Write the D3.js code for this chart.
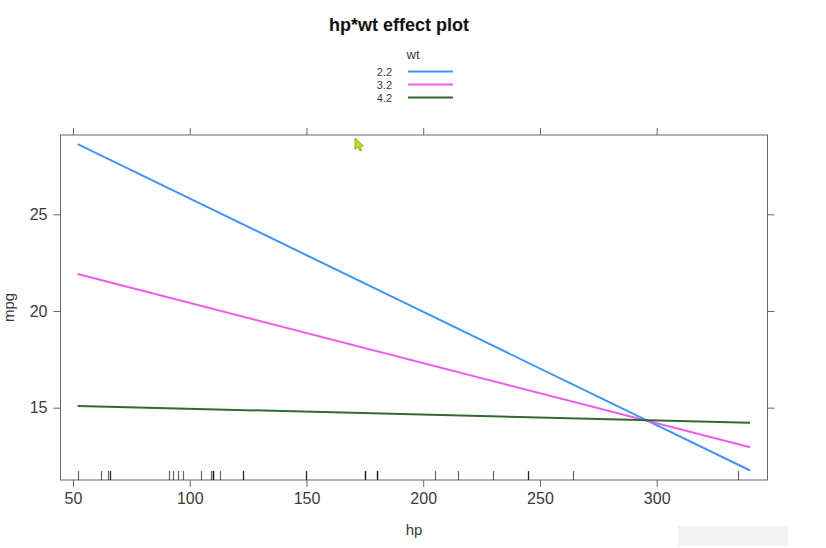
<!DOCTYPE html>
<html>
<head>
<meta charset="utf-8">
<script src="https://cdn.jsdelivr.net/npm/d3@7"></script>
<style>
  html, body { margin: 0; padding: 0; background: #fff; }
  svg { display: block; font-family: "Liberation Sans", Arial, sans-serif; }
</style>
</head>
<body>
<svg id="chart" width="826" height="548"></svg>
<script>
// ---- data ----
const hpEnds = [52, 340];
const wtLevels = ["2.2", "3.2", "4.2"];
const mpgWt22 = [28.63, 11.75];
const mpgWt32 = [21.91, 12.95];
const mpgWt42 = [15.09, 14.22];
const seriesColors = ["#3f95fb", "#ef5aef", "#2f6b2f"];
const rugHp = [110,110,93,110,175,105,245,62,95,123,123,180,180,180,205,215,230,66,52,65,97,150,150,245,175,66,91,113,264,175,335,109];
const xTicks = [50, 100, 150, 200, 250, 300];
const yTicks = [15, 20, 25];
const titleText = "hp*wt effect plot";
const xLabel = "hp";
const yLabel = "mpg";
const legendTitle = "wt";

// ---- layout ----
const svg = d3.select("#chart");
const box = { left: 60.5, right: 767.5, top: 135, bottom: 480 };
const x = d3.scaleLinear().domain([44.65, 347.46]).range([box.left, box.right]);
const y = d3.scaleLinear().domain([11.26, 29.10]).range([box.bottom, box.top]);
const axisColor = "#666";
const textColor = "#3a3a3a";

// title
svg.append("text").attr("x", 399).attr("y", 31).attr("text-anchor", "middle")
  .attr("font-size", 18).attr("font-weight", "bold").attr("fill", "#111").text(titleText);

// legend
svg.append("text").attr("x", 413).attr("y", 59).attr("text-anchor", "middle")
  .attr("font-size", 13).attr("fill", textColor).text(legendTitle);
const series = [mpgWt22, mpgWt32, mpgWt42];
const leg = svg.append("g");
wtLevels.forEach((lv, i) => {
  const ly = 71.5 + i * 13;
  leg.append("text").attr("x", 392).attr("y", ly + 4.5).attr("text-anchor", "end")
    .attr("font-size", 11).attr("fill", textColor).text(lv);
  leg.append("line").attr("x1", 408).attr("x2", 453).attr("y1", ly).attr("y2", ly)
    .attr("stroke", seriesColors[i]).attr("stroke-width", 2);
});

// axes
function styleAxis(g) {
  g.select(".domain").remove();
  g.selectAll(".tick line").attr("stroke", axisColor);
  g.selectAll(".tick text").attr("fill", textColor).attr("font-size", 16)
    .attr("font-family", "Liberation Sans, Arial, sans-serif");
}
svg.append("g").attr("transform", `translate(0,${box.bottom})`)
  .call(d3.axisBottom(x).tickValues(xTicks).tickSize(7).tickPadding(6))
  .call(styleAxis);
svg.append("g").attr("transform", `translate(0,${box.top})`)
  .call(d3.axisTop(x).tickValues(xTicks).tickSize(7).tickFormat(""))
  .call(styleAxis);
svg.append("g").attr("transform", `translate(${box.left},0)`)
  .call(d3.axisLeft(y).tickValues(yTicks).tickSize(7).tickPadding(6))
  .call(styleAxis);
svg.append("g").attr("transform", `translate(${box.right},0)`)
  .call(d3.axisRight(y).tickValues(yTicks).tickSize(7).tickFormat(""))
  .call(styleAxis);

// panel box
svg.append("rect").attr("x", box.left).attr("y", box.top)
  .attr("width", box.right - box.left).attr("height", box.bottom - box.top)
  .attr("fill", "none").attr("stroke", axisColor).attr("stroke-width", 1);

// rug
svg.append("g").selectAll("line").data(rugHp).join("line")
  .attr("x1", d => Math.round(x(d)) + 0.5).attr("x2", d => Math.round(x(d)) + 0.5)
  .attr("y1", box.bottom - 9).attr("y2", box.bottom)
  .attr("stroke", "#000").attr("stroke-opacity", 0.6).attr("stroke-width", 1.2);

// effect lines
const line = d3.line().x((d, i) => x(hpEnds[i])).y(d => y(d));
series.forEach((s, i) => {
  svg.append("path").datum(s).attr("d", line).attr("fill", "none")
    .attr("stroke", seriesColors[i]).attr("stroke-width", 2);
});

// axis labels
svg.append("text").attr("x", (box.left + box.right) / 2).attr("y", 535)
  .attr("text-anchor", "middle").attr("font-size", 15).attr("fill", textColor).text(xLabel);
svg.append("text").attr("transform", `translate(14,${(box.top + box.bottom) / 2}) rotate(-90)`)
  .attr("text-anchor", "middle").attr("font-size", 15).attr("fill", textColor).text(yLabel);

// screenshot artefacts: mouse cursor and faint watermark
svg.append("path")
  .attr("d", "M355,138 L355,149.5 L357.8,147 L360,151 L361.8,150.2 L359.7,146.3 L363.5,146 Z")
  .attr("fill", "#c9d81c").attr("stroke", "#8c9a10").attr("stroke-width", 0.8);
svg.append("rect").attr("x", 678).attr("y", 526).attr("width", 110).attr("height", 20)
  .attr("fill", "#f2f2f2");
</script>
</body>
</html>
